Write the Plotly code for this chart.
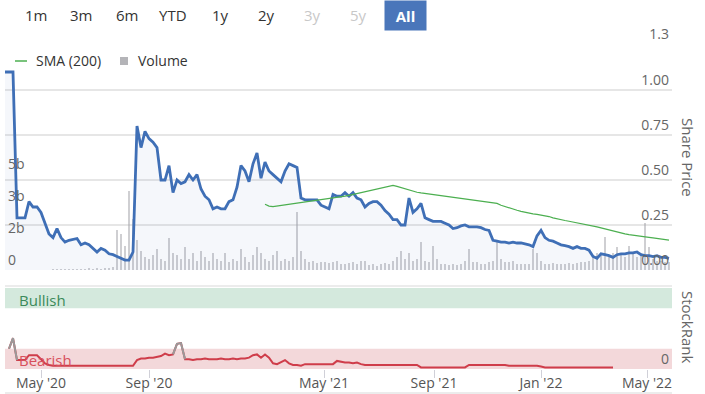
import plotly.graph_objects as go

# ---------------- data (sampled along the ordinal time axis) ----------------
price = [
    1.10, 1.10, 1.10, 0.29, 0.29, 0.29, 0.38, 0.35, 0.35, 0.32,
    0.26, 0.20, 0.18, 0.23, 0.18, 0.155, 0.165, 0.17, 0.175, 0.14,
    0.15, 0.14, 0.12, 0.10, 0.12, 0.11, 0.09, 0.085, 0.075, 0.065,
    0.055, 0.055, 0.10, 0.80, 0.68, 0.77, 0.73, 0.71, 0.68, 0.50,
    0.50, 0.58, 0.43, 0.50, 0.48, 0.49, 0.53, 0.50, 0.53, 0.45,
    0.41, 0.39, 0.34, 0.35, 0.34, 0.34, 0.38, 0.39, 0.46, 0.58,
    0.55, 0.49, 0.59, 0.65, 0.51, 0.60, 0.55, 0.53, 0.51, 0.49,
    0.55, 0.59, 0.58, 0.57, 0.40, 0.39, 0.39, 0.39, 0.39, 0.36,
    0.35, 0.34, 0.42, 0.41, 0.41, 0.43, 0.41, 0.43, 0.40, 0.39,
    0.35, 0.37, 0.38, 0.38, 0.36, 0.33, 0.31, 0.28, 0.28, 0.25,
    0.25, 0.40, 0.32, 0.34, 0.37, 0.29, 0.28, 0.27, 0.27, 0.27,
    0.26, 0.25, 0.23, 0.235, 0.245, 0.25, 0.24, 0.24, 0.24, 0.235,
    0.225, 0.22, 0.165, 0.16, 0.155, 0.155, 0.15, 0.155, 0.15, 0.15,
    0.145, 0.14, 0.13, 0.19, 0.22, 0.18, 0.165, 0.16, 0.15, 0.14,
    0.135, 0.13, 0.12, 0.13, 0.12, 0.12, 0.11, 0.075, 0.065, 0.09,
    0.085, 0.08, 0.07, 0.085, 0.09, 0.09, 0.095, 0.095, 0.10, 0.085,
    0.08, 0.08, 0.075, 0.08, 0.07, 0.07, 0.065,
]

sma_200 = [None] * 65 + [
    0.365, 0.355, 0.352, 0.355, 0.358, 0.361, 0.364, 0.367, 0.37, 0.373,
    0.376, 0.379, 0.382, 0.385, 0.388, 0.391, 0.394, 0.40, 0.403, 0.407,
    0.41, 0.415, 0.42, 0.425, 0.43, 0.435, 0.44, 0.445, 0.45, 0.455,
    0.46, 0.466, 0.47, 0.465, 0.458, 0.452, 0.445, 0.438, 0.432, 0.428,
    0.425, 0.42, 0.416, 0.413, 0.41, 0.407, 0.403, 0.40, 0.397, 0.394,
    0.391, 0.389, 0.386, 0.384, 0.381, 0.379, 0.376, 0.373, 0.37, 0.36,
    0.352, 0.345, 0.338, 0.332, 0.326, 0.32, 0.316, 0.312, 0.309, 0.306,
    0.303, 0.297, 0.29, 0.284, 0.279, 0.275, 0.271, 0.267, 0.264, 0.26,
    0.256, 0.252, 0.246, 0.24, 0.234, 0.228, 0.222, 0.216, 0.211, 0.206,
    0.201, 0.197, 0.193, 0.19, 0.187, 0.184, 0.181, 0.178, 0.175, 0.172,
    0.169, 0.166,
]

# volume in billions of shares
volume = [
    0, 0, 0, 0, 0, 0, 0, 0, 0, 0, 0.02, 0.02, 0.03,
    0.05, 0.04, 0.06, 0.05, 0.03, 0.06, 0.07, 0.05, 0.08, 0.06, 0.09, 0.07, 0.10, 0.12,
    0.15,
    2.1, 1.9, 1.3, 4.2, 2.7, 1.6, 1.0, 0.7, 0.6, 0.8, 1.1, 0.6, 0.5, 1.7,
    0.9, 0.8, 0.6, 1.2, 0.6, 0.9, 0.5, 1.0, 0.7, 0.5, 0.9, 0.6, 0.5, 0.9, 0.4, 0.6,
    0.5, 1.1, 0.7, 0.4, 0.8, 1.2, 0.9, 0.6, 0.5, 0.8, 1.0, 0.5, 0.6, 0.5, 0.7,
    3.1,
    1.0, 0.6, 0.4, 0.5, 0.35, 0.4, 0.45, 0.35, 0.4, 0.5, 0.3, 0.3, 0.35, 0.4, 0.3,
    0.5, 0.5, 0.25, 0.3, 0.2, 0.3, 0.35, 0.3,
    0.5, 0.7, 1.0, 0.6, 0.9, 0.5, 0.6, 1.5, 0.5, 0.4, 1.3, 0.6, 0.3, 0.3, 0.25,
    0.3, 0.25, 0.3, 0.5, 1.1, 0.4, 0.4, 0.3, 0.3, 0.4, 0.5,
    1.5, 0.6, 0.4, 0.4, 0.5, 0.3, 0.3, 0.3, 0.3, 1.1, 0.9, 0.5, 0.3, 0.3, 0.35,
    0.3, 0.3, 0.3, 0.35, 0.3, 0.35, 0.4, 0.4, 0.5,
    0.8, 0.9, 0.8, 1.75, 0.8, 0.9, 1.2, 0.8, 0.7, 1.3, 0.9, 0.7, 0.9, 2.5, 1.2,
    0.6, 0.5, 0.5, 0.4, 0.4,
]

stock_rank = (
    [None, 25, 38, 11, 11, 11, 17, 17, 17, 12, 7, 5]
    + [4] * 21
    + [11, 13, 13, 14, 14, 15, 16, 19, 17, 18]
    + [31, 32]
    + [12, 12, 11, 12, 12, 13, 12, 12, 12, 13, 12, 12, 13, 12, 13, 13, 14]
    + [17, 18, 14, 18, 14]
    + [7, 6, 9, 11, 7, 5, 5, 4]
    + [6] * 8
    + [10, 9, 8, 8, 7, 8, 6]
    + [5] * 14
    + [2] * 12
    + [5] * 10 + [4] * 8
    + [3]
    + [2] * 18
    + [None] * 14
)

tick_labels = ["May '20", "Sep '20", "May '21", "Sep '21", "Jan '22", "May '22"]
tick_index = [9, 36, 79.75, 107.25, 134, 160.5]

vol_tick_vals = [0, 1.7, 3.4, 5.1]
vol_tick_text = ["0", "2b", "3b", "5b"]
price_tick_vals = [0, 0.25, 0.5, 0.75, 1.0, 1.2556]
price_tick_text = ["0.00", "0.25", "0.50", "0.75", "1.00", "1.3"]

range_buttons = ["1m", "3m", "6m", "YTD", "1y", "2y", "3y", "5y", "All"]
disabled_buttons = ["3y", "5y"]

idx = list(range(len(price)))

# grey (neutral) part of the StockRank line
GREY_T = 27
rank_grey = [None] * len(stock_rank)
for i, v in enumerate(stock_rank):
    if v is not None and v > GREY_T:
        for j in (i - 1, i, i + 1):
            if 0 <= j < len(stock_rank):
                rank_grey[j] = stock_rank[j]

FONT = "Open Sans, Noto Sans, sans-serif"
VOL_COLOR = "rgba(160,160,166,0.5)"
SMA_COLOR = "#4caf50"

fig = go.Figure()
fig.add_trace(go.Bar(
    x=idx, y=volume, yaxis="y", name="Volume", width=0.55,
    marker=dict(color=VOL_COLOR, line=dict(width=0)), showlegend=False,
))
fig.add_trace(go.Scatter(
    x=idx, y=price, yaxis="y2", mode="lines", name="Share Price",
    line=dict(color="#3f6fb6", width=2.8), fill="tozeroy",
    fillcolor="rgba(70,110,190,0.055)", showlegend=False,
))
fig.add_trace(go.Scatter(
    x=idx, y=sma_200, yaxis="y2", mode="lines", name="SMA (200)",
    line=dict(color=SMA_COLOR, width=1.2), showlegend=False,
))
fig.add_trace(go.Scatter(
    x=idx, y=stock_rank, yaxis="y3", mode="lines", name="StockRank",
    line=dict(color="#cf3d4a", width=2), showlegend=False,
))
fig.add_trace(go.Scatter(
    x=idx, y=rank_grey, yaxis="y3", mode="lines", name="StockRank neutral",
    line=dict(color="#9a9a9a", width=2), showlegend=False,
))

# ----- layout geometry (pixels -> paper) -----
W, H = 705, 394
ML, MR, MT, MB = 5, 33, 44, 25
PW, PH = W - ML - MR, H - MT - MB


def px_x(px):
    return (px - ML) / PW


def px_y(py):
    return (H - MB - py) / PH


annotations = []
button_px = [36, 81, 127, 173, 221, 266, 312, 358, 405]
for lab, bx in zip(range_buttons, button_px):
    if lab == "All":
        annotations.append(dict(
            text="<b>All</b>", x=px_x(bx), y=px_y(15), xref="paper", yref="paper",
            showarrow=False, font=dict(size=15, color="white", family=FONT),
            bgcolor="#4a76ba", width=39, height=27, xanchor="center", yanchor="middle",
        ))
    else:
        annotations.append(dict(
            text=lab, x=px_x(bx), y=px_y(15), xref="paper", yref="paper",
            showarrow=False, xanchor="center", yanchor="middle",
            font=dict(size=15, family=FONT,
                      color="#c8c8c8" if lab in disabled_buttons else "#333333"),
        ))

# legend (drawn manually to match the compact highcharts legend)
annotations += [
    dict(text="SMA (200)", x=px_x(34), y=px_y(61), xref="paper", yref="paper",
         xanchor="left", yanchor="middle", showarrow=False,
         font=dict(size=14, color="#333333", family=FONT)),
    dict(text="Volume", x=px_x(136), y=px_y(61), xref="paper", yref="paper",
         xanchor="left", yanchor="middle", showarrow=False,
         font=dict(size=14, color="#333333", family=FONT)),
]

annotations += [
    dict(text="Bullish", x=px_x(17), y=85, xref="paper", yref="y3", xanchor="left",
         yanchor="middle", showarrow=False, font=dict(size=15, color="#3b8a5a", family=FONT)),
    dict(text="Bearish", x=px_x(17), y=11, xref="paper", yref="y3", xanchor="left",
         yanchor="middle", showarrow=False, font=dict(size=15, color="#d8505c", family=FONT)),
    dict(text="Share Price", x=px_x(688), y=px_y(157), xref="paper", yref="paper",
         xanchor="center", yanchor="middle",
         textangle=90, showarrow=False, font=dict(size=15, color="#666666", family=FONT)),
    dict(text="StockRank", x=px_x(688), y=px_y(327), xref="paper", yref="paper",
         xanchor="center", yanchor="middle",
         textangle=90, showarrow=False, font=dict(size=15, color="#666666", family=FONT)),
]

shapes = [
    dict(type="rect", xref="paper", yref="y3", x0=0, x1=1, y0=0, y1=25,
         fillcolor="#f3d8da", line=dict(width=0), layer="below"),
    dict(type="rect", xref="paper", yref="y3", x0=0, x1=1, y0=75, y1=100,
         fillcolor="#d4e9dd", line=dict(width=0), layer="below"),
    dict(type="line", xref="paper", yref="paper", x0=0, x1=1, y0=px_y(286), y1=px_y(286),
         line=dict(color="#e6e6e6", width=1.5)),
    dict(type="line", xref="paper", yref="paper", x0=0, x1=1, y0=px_y(393), y1=px_y(393),
         line=dict(color="#e6e6e6", width=1.5)),
    # legend symbols
    dict(type="line", xref="paper", yref="paper", x0=px_x(15), x1=px_x(27),
         y0=px_y(61), y1=px_y(61), line=dict(color=SMA_COLOR, width=1.5)),
    dict(type="rect", xref="paper", yref="paper", x0=px_x(120), x1=px_x(128),
         y0=px_y(65), y1=px_y(57), fillcolor="#b4b4b8", line=dict(width=0)),
]

fig.update_layout(
    template="none",
    width=W, height=H,
    margin=dict(l=ML, r=MR, t=MT, b=MB, autoexpand=False),
    paper_bgcolor="white", plot_bgcolor="white",
    font=dict(family=FONT, color="#666666", size=14),
    bargap=0, showlegend=False,
    xaxis=dict(
        range=[0, 166.75], anchor="y3", tickvals=tick_index, ticktext=tick_labels,
        ticks="outside", ticklen=8, tickcolor="#d0d0d8", showgrid=False,
        zeroline=False, showline=False, automargin=False, ticklabelstandoff=-7,
        tickfont=dict(size=14, color="#555555"),
    ),
    yaxis=dict(
        domain=[px_y(270), 1], range=[0, 12], side="left",
        tickvals=vol_tick_vals, ticktext=vol_tick_text, ticks="",
        ticklabelposition="inside top", showgrid=False, zeroline=False,
        automargin=False, showline=False,
        tickfont=dict(size=14, color="#666666"),
    ),
    yaxis2=dict(
        overlaying="y", side="right", range=[0, 1.2556],
        tickvals=price_tick_vals, ticktext=price_tick_text, ticks="",
        ticklabelposition="inside top", ticklabeloverflow="allow",
        showgrid=True, gridcolor="#e6e6e6", showline=False,
        gridwidth=1.5, zeroline=False, automargin=False,
        tickfont=dict(size=14, color="#666666"),
    ),
    yaxis3=dict(
        domain=[0, px_y(288)], range=[0, 100], side="right", anchor="x",
        tickvals=[0], ticktext=["0"], ticklabelposition="inside top", ticks="",
        ticklabeloverflow="allow", showline=False,
        showgrid=False, zeroline=False, automargin=False,
        tickfont=dict(size=14, color="#666666"),
    ),
    annotations=annotations,
    shapes=shapes,
)

# remove the browser's default 8px page margin so the figure sits at the window origin
fig.write_html(
    "out.html",
    config={"displayModeBar": False},
    post_script="document.body.style.margin='0';document.body.style.padding='0';",
)
